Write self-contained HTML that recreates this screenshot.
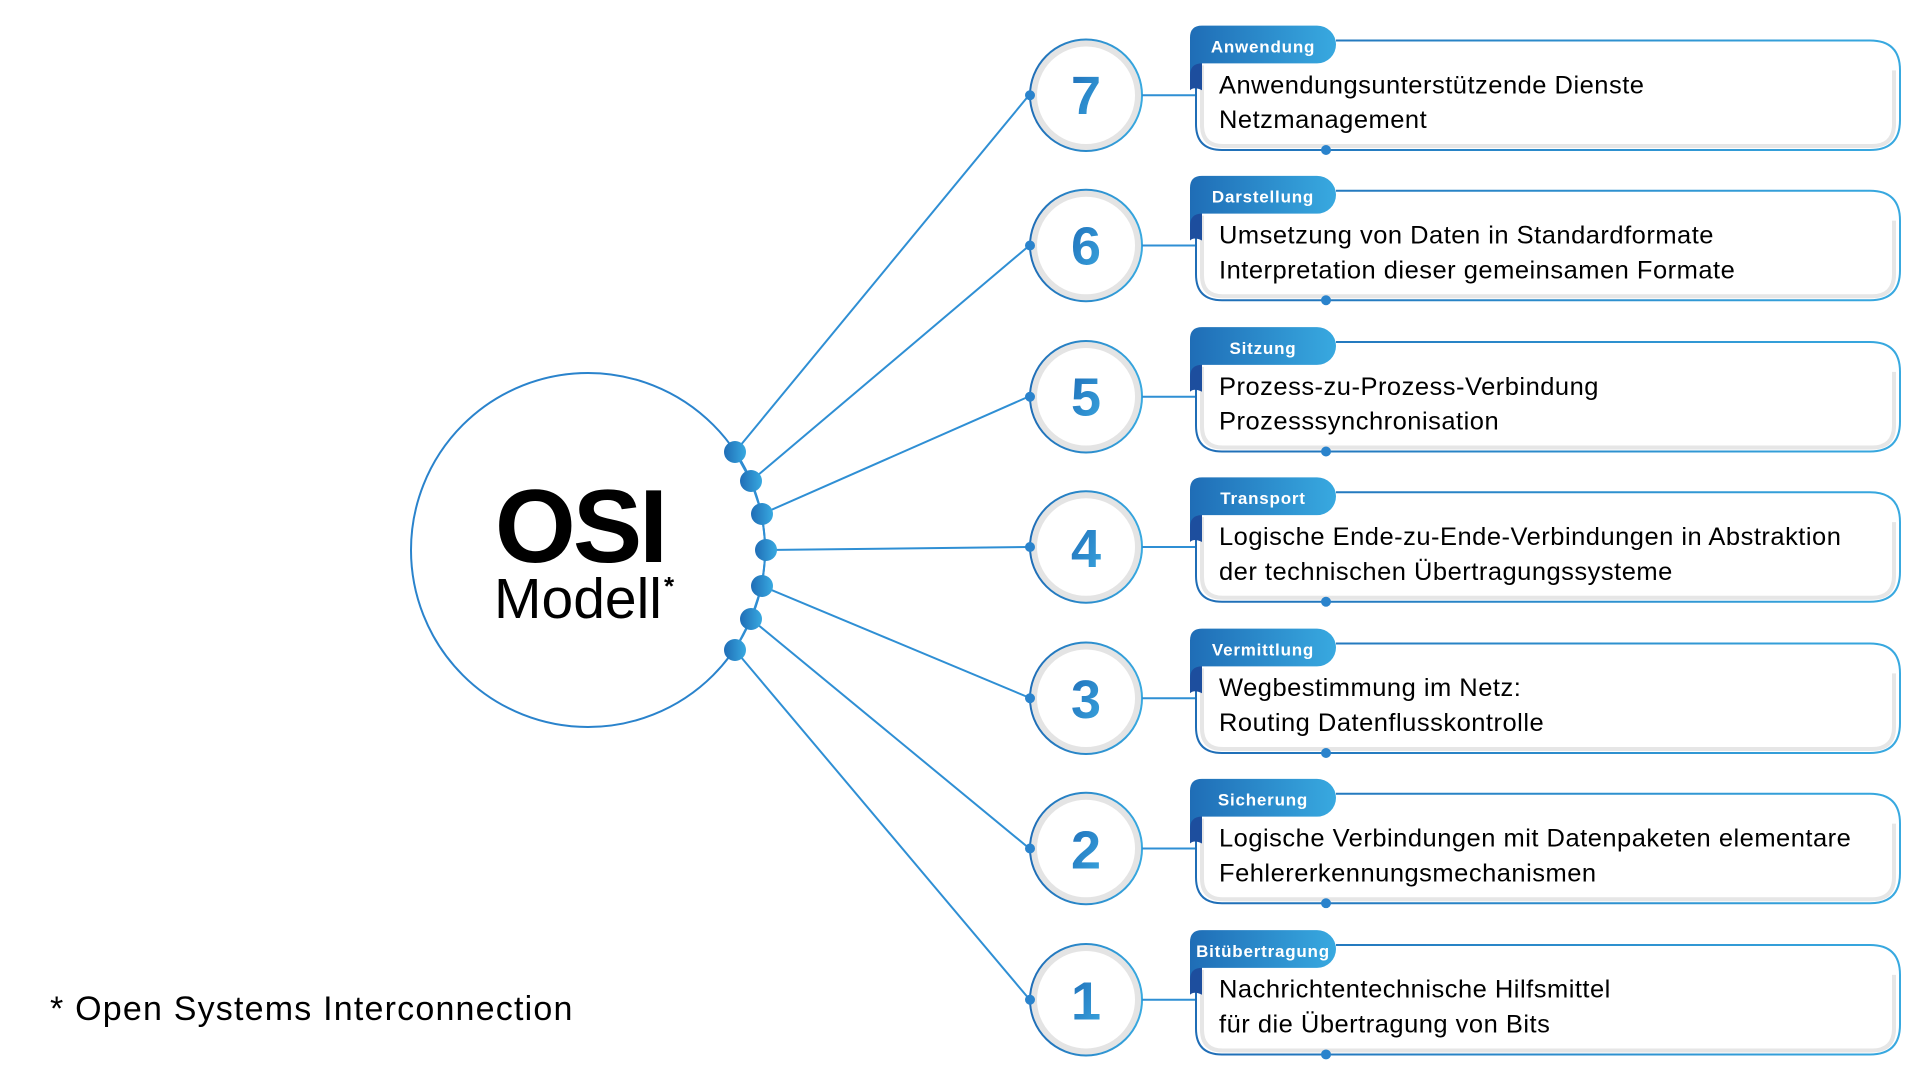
<!DOCTYPE html>
<html><head><meta charset="utf-8"><style>
html,body{margin:0;padding:0;background:#fff;}
svg{display:block;}
text{font-family:"Liberation Sans",sans-serif;}
</style></head><body>
<svg width="1920" height="1080" viewBox="0 0 1920 1080" xmlns="http://www.w3.org/2000/svg">
<defs>
<linearGradient id="bl" x1="0" x2="1" y1="0" y2="0"><stop offset="0" stop-color="#1f6db6"/><stop offset="1" stop-color="#38a9e0"/></linearGradient>
<linearGradient id="num" x1="0" x2="1" y1="0" y2="1"><stop offset="0" stop-color="#1e6db8"/><stop offset="1" stop-color="#3aa6df"/></linearGradient>
<g id="row">
  <circle cx="1086" cy="545" r="52" fill="none" stroke="#e4e4e4" stroke-width="6"/>
  <circle cx="1086" cy="545" r="56" fill="none" stroke="url(#bl)" stroke-width="2"/>
  <circle cx="1030" cy="545" r="5" fill="#2a83cc"/>
  <line x1="1142" y1="545" x2="1196" y2="545" stroke="#2f8fd4" stroke-width="2"/>
  <path d="M1202 515 L1202 575 Q1202 596 1223 596 L1872 596 Q1894 596 1894 574 L1894 520" fill="none" stroke="#e6e6e6" stroke-width="4"/>
  <path d="M1336 490 L1870 490 Q1900 490 1900 520 L1900 570 Q1900 600 1870 600 L1222 600 Q1196 600 1196 574 L1196 513" fill="none" stroke="url(#bl)" stroke-width="2"/>
  <path d="M1190 540 L1190 500 L1202 505 L1202 540 Q1194 536 1190 540 Z" fill="#1d4e9e"/>
  <path d="M1202 475 L1317 475 A19 19 0 0 1 1317 513 L1202 513 Q1190 513 1190 525 L1190 487 Q1190 475 1202 475 Z" fill="url(#bl)"/>
  <circle cx="1326" cy="600" r="5" fill="#2a83cc"/>
</g>
</defs>

<circle cx="588" cy="550" r="177" fill="none" stroke="#2a83cc" stroke-width="2"/>
<text x="580" y="562" font-size="104" font-weight="bold" text-anchor="middle" fill="#000" letter-spacing="-3">OSI</text>
<text x="578" y="618" font-size="57" text-anchor="middle" fill="#000">Modell</text>
<text x="664" y="595" font-size="26" font-weight="bold" fill="#000">*</text>

<g stroke="#2f8fd4" stroke-width="2" fill="none">
<path d="M735 452 L751 481 L762 514 L766 550 L762 586 L751 619 L735 650"/>
<line x1="735" y1="452" x2="1030" y2="94"/>
<line x1="751" y1="481" x2="1030" y2="245"/>
<line x1="762" y1="514" x2="1030" y2="396"/>
<line x1="766" y1="550" x2="1030" y2="547"/>
<line x1="762" y1="586" x2="1030" y2="698"/>
<line x1="751" y1="619" x2="1030" y2="849"/>
<line x1="735" y1="650" x2="1030" y2="1000"/>
</g>
<g fill="url(#bl)">
<circle cx="735" cy="452" r="11"/><circle cx="751" cy="481" r="11"/><circle cx="762" cy="514" r="11"/>
<circle cx="766" cy="550" r="11"/><circle cx="762" cy="586" r="11"/><circle cx="751" cy="619" r="11"/><circle cx="735" cy="650" r="11"/>
</g>

<g transform="translate(0,547) scale(1,0.995) translate(0,-545)">
<use href="#row" transform="translate(0,-454)"/>
<use href="#row" transform="translate(0,-303)"/>
<use href="#row" transform="translate(0,-151)"/>
<use href="#row"/>
<use href="#row" transform="translate(0,152)"/>
<use href="#row" transform="translate(0,303)"/>
<use href="#row" transform="translate(0,455)"/>

<g font-size="54" font-weight="bold" fill="url(#num)" text-anchor="middle">
<text x="1086" y="110">7</text><text x="1086" y="261">6</text><text x="1086" y="413">5</text>
<text x="1086" y="565">4</text><text x="1086" y="717">3</text><text x="1086" y="868">2</text><text x="1086" y="1020">1</text>
</g>
<g font-size="17" font-weight="bold" fill="#fff" letter-spacing="0.8" text-anchor="middle">
<text x="1263" y="48">Anwendung</text><text x="1263" y="199">Darstellung</text><text x="1263" y="351">Sitzung</text>
<text x="1263" y="502">Transport</text><text x="1263" y="654">Vermittlung</text><text x="1263" y="805">Sicherung</text><text x="1263" y="957">Bitübertragung</text>
</g>
<g font-size="25.5" fill="#000" letter-spacing="0.5">
<text x="1219" y="89">Anwendungsunterstützende Dienste</text><text x="1219" y="124">Netzmanagement</text>
<text x="1219" y="240">Umsetzung von Daten in Standardformate</text><text x="1219" y="275">Interpretation dieser gemeinsamen Formate</text>
<text x="1219" y="392">Prozess-zu-Prozess-Verbindung</text><text x="1219" y="427">Prozesssynchronisation</text>
<text x="1219" y="543">Logische Ende-zu-Ende-Verbindungen in Abstraktion</text><text x="1219" y="578">der technischen Übertragungssysteme</text>
<text x="1219" y="695">Wegbestimmung im Netz:</text><text x="1219" y="730">Routing Datenflusskontrolle</text>
<text x="1219" y="846">Logische Verbindungen mit Datenpaketen elementare</text><text x="1219" y="881">Fehlererkennungsmechanismen</text>
<text x="1219" y="998">Nachrichtentechnische Hilfsmittel</text><text x="1219" y="1033">für die Übertragung von Bits</text>
</g>
</g>

<text x="50" y="1020" font-size="34" fill="#000" letter-spacing="1.2">* Open Systems Interconnection</text>
</svg>
</body></html>
